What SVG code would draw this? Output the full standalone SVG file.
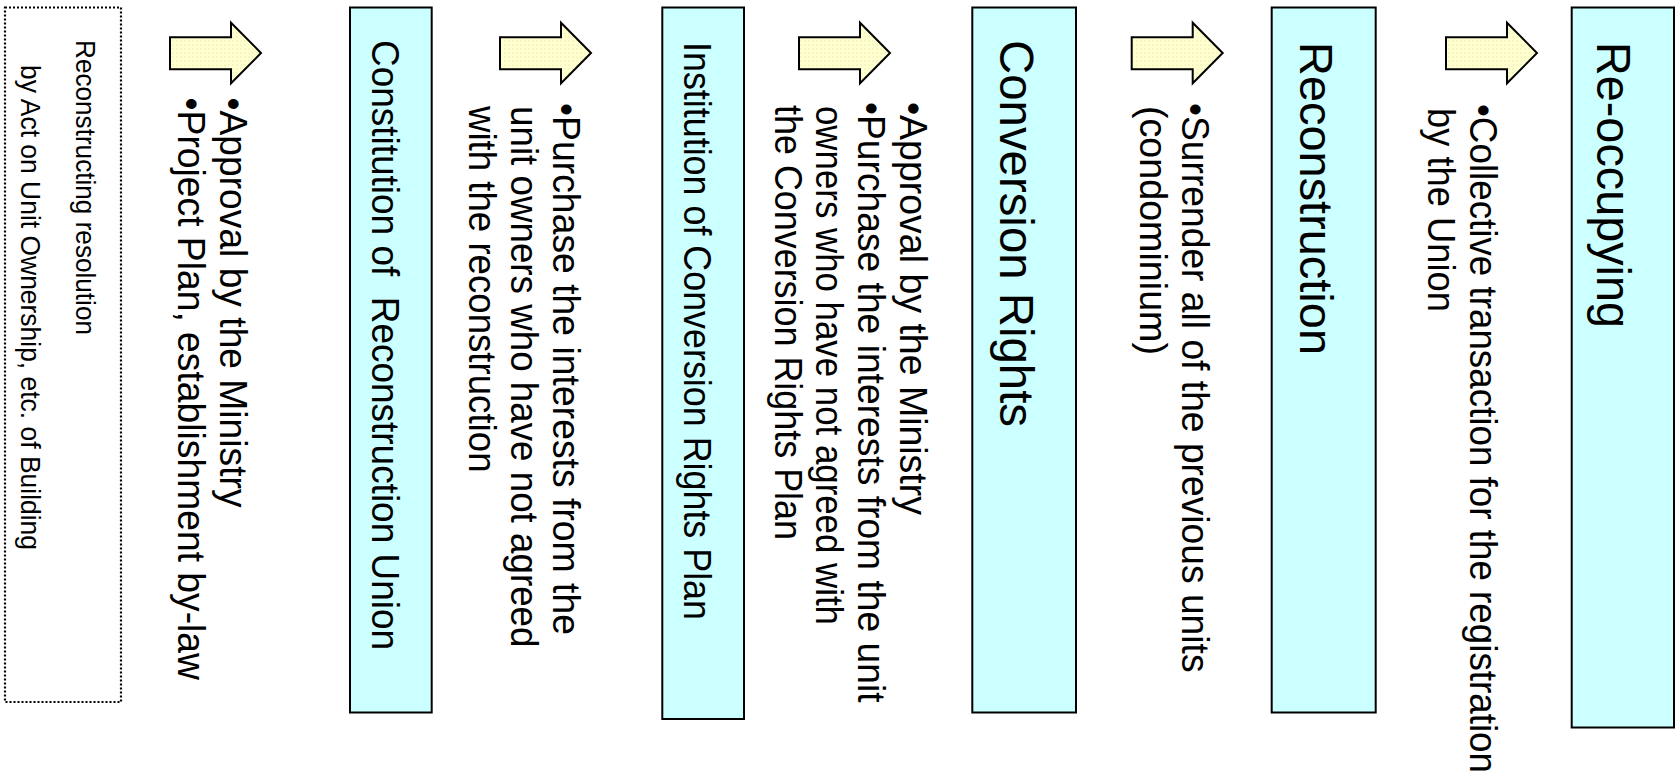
<svg xmlns="http://www.w3.org/2000/svg" width="1675" height="783" viewBox="0 0 1675 783">
  <style>
    text { font-family: "Liberation Sans", Arial, sans-serif; fill: #000; }
    .box { fill: #CCFFFF; stroke: #000; stroke-width: 2; }
    .dotbox { fill: none; stroke: #000; stroke-width: 2.2; stroke-dasharray: 2 2; }
    .arrow { fill: url(#tex); stroke: #000; stroke-width: 2; stroke-linejoin: miter; }
    .t-note { font-size: 28px; }
    .t-bul { font-size: 38px; }
    .t-box { font-size: 38px; }
  </style>
  <defs>
    <pattern id="tex" width="4" height="4" patternUnits="userSpaceOnUse">
      <rect width="4" height="4" fill="#FFFFD0"/>
      <rect x="0" y="0" width="2" height="2" fill="#F7F7C4"/>
    </pattern>
  </defs>
  <rect width="1675" height="783" fill="#FFFFFF"/>

  <g id="resolution-note">
    <rect class="dotbox" x="5" y="7.5" width="116" height="694.5"/>
    <text class="t-note" transform="translate(76,40) rotate(90)" textLength="295" lengthAdjust="spacingAndGlyphs">Reconstructing resolution</text>
    <text class="t-note" transform="translate(20.5,65) rotate(90)" textLength="485" lengthAdjust="spacingAndGlyphs">by Act on Unit Ownership, etc. of Building</text>
  </g>

  <g id="connectors">
    <polygon class="arrow" points="170,37.3 231,37.3 231,22.7 261,53 231,83.3 231,69.3 170,69.3"/>
    <polygon class="arrow" points="500,37.3 561,37.3 561,22.7 591,53 561,83.3 561,69.3 500,69.3"/>
    <polygon class="arrow" points="799,37.3 860,37.3 860,22.7 890,53 860,83.3 860,69.3 799,69.3"/>
    <polygon class="arrow" points="1131.7,37.3 1192.7,37.3 1192.7,22.7 1222.7,53 1192.7,83.3 1192.7,69.3 1131.7,69.3"/>
    <polygon class="arrow" points="1446,37.3 1507,37.3 1507,22.7 1537,53 1507,83.3 1507,69.3 1446,69.3"/>
  </g>

  <g id="step1-notes">
    <text class="t-bul" transform="translate(220,97.5) rotate(90)" textLength="410" lengthAdjust="spacingAndGlyphs">•Approval by the Ministry</text>
    <text class="t-bul" transform="translate(178,97.5) rotate(90)" textLength="582.5" lengthAdjust="spacingAndGlyphs">•Project Plan, establishment by-law</text>
  </g>

  <g id="constitution-union">
    <rect class="box" x="350" y="7.5" width="81.7" height="705"/>
    <text class="t-box" transform="translate(371.7,40) rotate(90)" textLength="610" lengthAdjust="spacingAndGlyphs" xml:space="preserve">Constitution of  Reconstruction Union</text>
  </g>

  <g id="step2-notes">
    <text class="t-bul" transform="translate(553.3,103) rotate(90)" textLength="532" lengthAdjust="spacingAndGlyphs">•Purchase the interests from the</text>
    <text class="t-bul" transform="translate(511.3,106) rotate(90)" textLength="541.5" lengthAdjust="spacingAndGlyphs">unit owners who have not agreed</text>
    <text class="t-bul" transform="translate(469.3,106) rotate(90)" textLength="366.5" lengthAdjust="spacingAndGlyphs">with the reconstruction</text>
  </g>

  <g id="conversion-plan">
    <rect class="box" x="662.3" y="7.5" width="81.7" height="711.5"/>
    <text class="t-box" transform="translate(683.8,42) rotate(90)" textLength="578" lengthAdjust="spacingAndGlyphs">Institution of Conversion Rights Plan</text>
  </g>

  <g id="step3-notes">
    <text class="t-bul" transform="translate(900,102) rotate(90)" textLength="413" lengthAdjust="spacingAndGlyphs">•Approval by the Ministry</text>
    <text class="t-bul" transform="translate(858.3,102) rotate(90)" textLength="600.5" lengthAdjust="spacingAndGlyphs">•Purchase the interests from the unit</text>
    <text class="t-bul" transform="translate(816.3,106) rotate(90)" textLength="519" lengthAdjust="spacingAndGlyphs">owners who have not agreed with</text>
    <text class="t-bul" transform="translate(774.5,105) rotate(90)" textLength="435" lengthAdjust="spacingAndGlyphs">the Conversion Rights Plan</text>
  </g>

  <g id="conversion-rights">
    <rect class="box" x="972.3" y="7.5" width="103.7" height="705"/>
    <text transform="translate(1000,40) rotate(90)" font-size="48" textLength="387" lengthAdjust="spacingAndGlyphs">Conversion Rights</text>
  </g>

  <g id="step4-notes">
    <text class="t-bul" transform="translate(1181.7,103) rotate(90)" textLength="569.5" lengthAdjust="spacingAndGlyphs">•Surrender all of the previous units</text>
    <text class="t-bul" transform="translate(1139.7,106) rotate(90)" textLength="249" lengthAdjust="spacingAndGlyphs">(condominium)</text>
  </g>

  <g id="reconstruction">
    <rect class="box" x="1271.7" y="7.5" width="104" height="705"/>
    <text transform="translate(1300,42) rotate(90)" font-size="47" textLength="313" lengthAdjust="spacingAndGlyphs">Reconstruction</text>
  </g>

  <g id="step5-notes">
    <text class="t-bul" transform="translate(1470,104) rotate(90)" textLength="669" lengthAdjust="spacingAndGlyphs">•Collective transaction for the registration</text>
    <text class="t-bul" transform="translate(1428,108) rotate(90)" textLength="204" lengthAdjust="spacingAndGlyphs">by the Union</text>
  </g>

  <g id="re-occupying">
    <rect class="box" x="1571.7" y="7.5" width="102.3" height="720"/>
    <text transform="translate(1596.7,42) rotate(90)" font-size="49" textLength="286" lengthAdjust="spacingAndGlyphs">Re-occupying</text>
  </g>
</svg>
